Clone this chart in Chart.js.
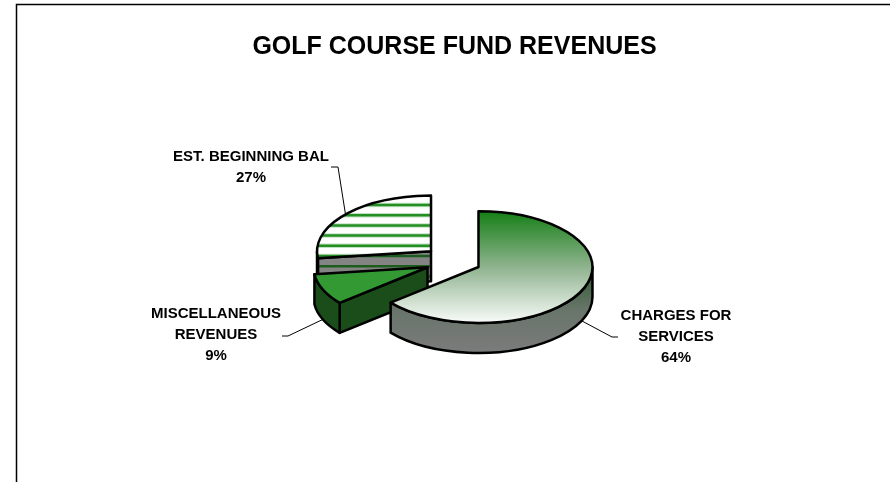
<!DOCTYPE html>
<html>
<head>
<meta charset="utf-8">
<title>Golf Course Fund Revenues</title>
<script src="https://cdn.jsdelivr.net/npm/chart.js@4/dist/chart.umd.js"></script>
<style>
  html, body { margin: 0; padding: 0; background: #fff; }
  #wrap { width: 890px; height: 482px; overflow: hidden; }
</style>
</head>
<body>
<div id="wrap"><canvas id="myChart" width="890" height="482"></canvas></div>
<script>
'use strict';

// Data

const categories = [['CHARGES FOR', 'SERVICES'], ['MISCELLANEOUS', 'REVENUES'], ['EST. BEGINNING BAL']];
const percents = [64, 9, 27];
const titleText = 'GOLF COURSE FUND REVENUES';

// Look of the fake 3D pie

const squash = 0.49;
const depth = 30;
const outline = 2.5;
const fontFamily = '"Liberation Sans", Arial, sans-serif';
const explode = [26.5, 29.4, 31.3];
const drawOrder = [2, 1, 0]; // back slice first

const stripeStart = 205;
const stripeGap = 10.2;

// where each label goes, and the elbow of its leader line
const labelSpots = [
  {x: 676, y: 316, elbow: [[612, 337], [618, 337]], onBottomRim: true},
  {x: 216, y: 314, elbow: [[288, 336], [282, 336]], onBottomRim: true},
  {x: 251, y: 157, elbow: [[338, 167], [331, 167]], onBottomRim: false}
];

function sliceGeometry(arc) {
  let mid = (arc.startAngle + arc.endAngle) / 2;
  let off = arc.options.offset;
  return {
    cx: arc.x + Math.cos(mid) * off,
    cy: arc.y + Math.sin(mid) * off * squash,
    rx: arc.outerRadius,
    ry: arc.outerRadius * squash,
    start: arc.startAngle,
    end: arc.endAngle,
    mid: mid
  };
}

function topPath(ctx, g) {
  ctx.beginPath();
  ctx.moveTo(g.cx, g.cy);
  ctx.ellipse(g.cx, g.cy, g.rx, g.ry, 0, g.start, g.end);
  ctx.closePath();
}

function cutPath(ctx, g, angle) {
  let x = g.cx + g.rx * Math.cos(angle);
  let y = g.cy + g.ry * Math.sin(angle);
  ctx.beginPath();
  ctx.moveTo(g.cx, g.cy);
  ctx.lineTo(x, y);
  ctx.lineTo(x, y + depth);
  ctx.lineTo(g.cx, g.cy + depth);
  ctx.closePath();
}

function wallPath(ctx, g, from, to) {
  ctx.beginPath();
  ctx.ellipse(g.cx, g.cy, g.rx, g.ry, 0, from, to);
  ctx.ellipse(g.cx, g.cy + depth, g.rx, g.ry, 0, to, from, true);
  ctx.closePath();
}

function stripes(ctx, color, width) {
  ctx.strokeStyle = color;
  ctx.lineWidth = width;
  for (let y = stripeStart; y < 300; y += stripeGap) {
    ctx.beginPath();
    ctx.moveTo(300, y);
    ctx.lineTo(440, y);
    ctx.stroke();
  }
}

function drawSlice(ctx, g, index) {
  ctx.lineJoin = 'round';

  let sideFill;
  if (index === 0) {
    sideFill = ctx.createLinearGradient(0, g.cy, 0, g.cy + g.ry + depth);
    sideFill.addColorStop(0, '#2f5a2f');
    sideFill.addColorStop(0.5, '#68756a');
    sideFill.addColorStop(1, '#7b7b7b');
  } else if (index === 1) {
    sideFill = '#1a4d1a';
  } else {
    sideFill = '#848484';
  }

  // cut face, only if it looks at us
  if (Math.cos(g.start) < -0.01) {
    cutPath(ctx, g, g.start);
    ctx.fillStyle = sideFill;
    ctx.fill();
    if (index === 2) {
      ctx.save();
      ctx.clip();
      stripes(ctx, '#1c5c1c', 2.5);
      ctx.restore();
      cutPath(ctx, g, g.start);
    }
    ctx.strokeStyle = '#000';
    ctx.lineWidth = outline;
    ctx.stroke();
  }

  // round wall
  let wallFrom = Math.max(g.start, 0);
  let wallTo = Math.min(g.end, Math.PI);
  if (wallTo > wallFrom) {
    wallPath(ctx, g, wallFrom, wallTo);
    ctx.fillStyle = sideFill;
    ctx.fill();
    ctx.strokeStyle = '#000';
    ctx.lineWidth = outline;
    ctx.stroke();
  }

  // top
  topPath(ctx, g);
  if (index === 0) {
    let grad = ctx.createLinearGradient(0, g.cy - g.ry, 0, g.cy + g.ry);
    grad.addColorStop(0, '#157f15');
    grad.addColorStop(0.5, '#8fb38f');
    grad.addColorStop(1, '#f8fbf8');
    ctx.fillStyle = grad;
  } else if (index === 1) {
    ctx.fillStyle = '#339933';
  } else {
    ctx.fillStyle = '#ffffff';
  }
  ctx.fill();

  if (index === 2) {
    ctx.save();
    topPath(ctx, g);
    ctx.clip();
    stripes(ctx, '#c4e0c4', 4.5);
    stripes(ctx, '#238f23', 2.5);
    ctx.restore();
    topPath(ctx, g);
  }
  ctx.strokeStyle = '#000';
  ctx.lineWidth = outline;
  ctx.stroke();
}

function drawLabel(ctx, g, index) {
  let spot = labelSpots[index];
  let rimX = g.cx + g.rx * Math.cos(g.mid);
  let rimY = g.cy + g.ry * Math.sin(g.mid) + (spot.onBottomRim ? depth : 0);

  ctx.strokeStyle = '#000';
  ctx.lineWidth = 1;
  ctx.beginPath();
  ctx.moveTo(rimX, rimY);
  for (let i = 0; i < spot.elbow.length; i++) {
    ctx.lineTo(spot.elbow[i][0], spot.elbow[i][1]);
  }
  ctx.stroke();

  let lines = categories[index].concat(percents[index] + '%');
  ctx.fillStyle = '#000';
  ctx.font = 'bold 15px ' + fontFamily;
  ctx.textAlign = 'center';
  ctx.textBaseline = 'middle';
  for (let i = 0; i < lines.length; i++) {
    ctx.fillText(lines[i], spot.x, spot.y + i * 21);
  }
}

// Frame round the chart, only top and left are in the shot

const framePlugin = {
  id: 'frame',
  beforeDraw(chart) {
    let ctx = chart.ctx;
    ctx.save();
    ctx.strokeStyle = '#000';
    ctx.lineWidth = 1.5;
    ctx.beginPath();
    ctx.moveTo(16.5, 482);
    ctx.lineTo(16.5, 4.5);
    ctx.lineTo(890, 4.5);
    ctx.stroke();
    ctx.restore();
  }
};

// Takes over the pie drawing, the angles still come from Chart.js

const pie3dPlugin = {
  id: 'pie3d',
  beforeDatasetsDraw(chart) {
    let ctx = chart.ctx;
    let arcs = chart.getDatasetMeta(0).data;
    ctx.save();
    for (let i = 0; i < drawOrder.length; i++) {
      let index = drawOrder[i];
      drawSlice(ctx, sliceGeometry(arcs[index]), index);
    }
    for (let i = 0; i < arcs.length; i++) {
      drawLabel(ctx, sliceGeometry(arcs[i]), i);
    }
    ctx.restore();
    return false;
  }
};

const config = {
  type: 'pie',
  data: {
    labels: categories,
    datasets: [{
      data: percents,
      radius: 114,
      offset: explode,
      borderWidth: 0,
      backgroundColor: ['#157f15', '#339933', '#ffffff']
    }]
  },
  options: {
    responsive: false,
    animation: false,
    layout: {
      padding: {left: 19, right: 0, top: 0, bottom: 21}
    },
    plugins: {
      legend: {display: false},
      tooltip: {enabled: false},
      title: {
        display: true,
        text: titleText,
        color: '#000',
        padding: {top: 32, bottom: 0},
        font: {family: fontFamily, size: 25, weight: 'bold', lineHeight: 1.2}
      }
    }
  },
  plugins: [framePlugin, pie3dPlugin]
};

const myChart = new Chart(document.getElementById('myChart'), config);
</script>
</body>
</html>
